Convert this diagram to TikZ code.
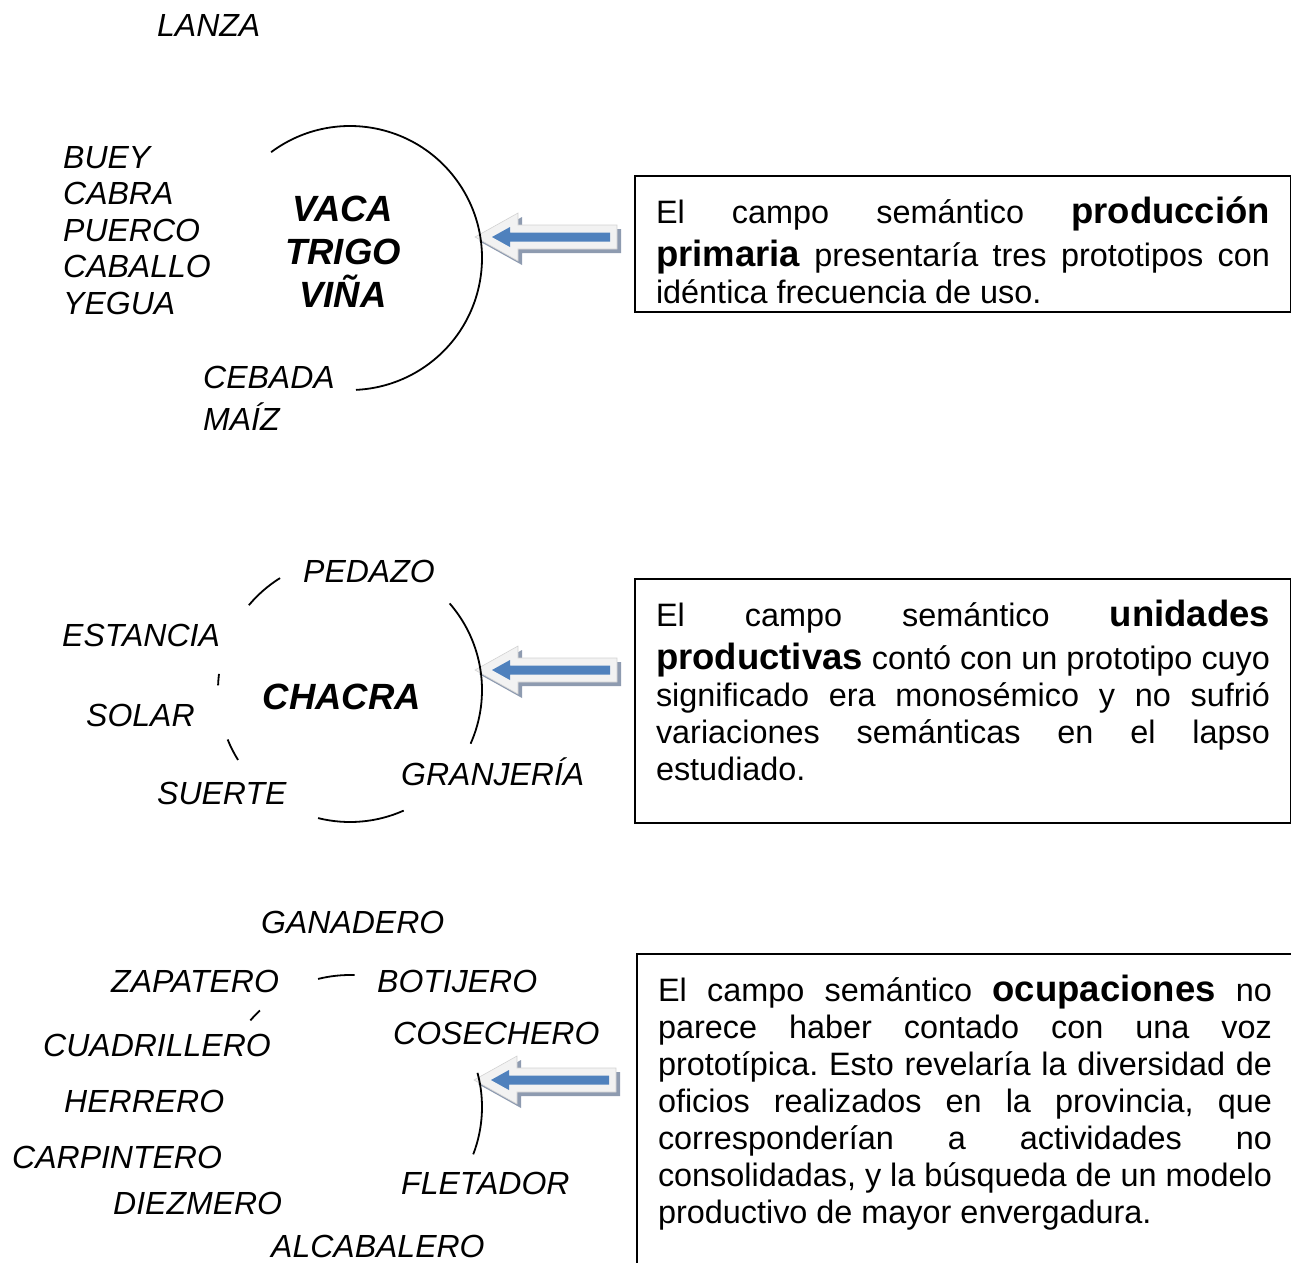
\documentclass[tikz,border=0pt]{standalone}
\usepackage{fontspec}
\setmainfont{Liberation Sans}
\usepackage{tikz}
\usetikzlibrary{calc}
\definecolor{cArrow}{HTML}{4F81BD}
\definecolor{cBevel}{HTML}{F2F2F2}
\definecolor{cEdge}{HTML}{D2D2D2}
\definecolor{cShade}{HTML}{8E9BB0}
\tikzset{
  word/.style  = {font=\fontsize{32}{36}\selectfont\itshape, inner sep=0pt, anchor=base west},
  core/.style  = {font=\fontsize{36.5}{43}\selectfont\bfseries\itshape, inner sep=0pt, anchor=base},
  ring/.style  = {draw=black, line width=1.8pt},
  note/.style  = {rectangle, draw=black, line width=2pt, anchor=north west,
                  inner xsep=21pt, inner ysep=9pt, text width=614pt, align=justify,
                  font=\fontsize{32.4}{37}\selectfont\frenchspacing},
}
\newcommand{\kw}[1]{{\fontsize{36.5}{37}\selectfont\bfseries #1}}
\newcommand{\jline}[1]{{\spaceskip=0pt\xspaceskip=0pt\makebox[614pt][s]{#1}}}
\newcommand{\fatarrow}[1]{%
  \begin{scope}[shift={(#1)}]
    \fill[cShade] (4,4) -- (47,-20) -- (47,-8) -- (146,-8) -- (146,16) -- (47,16) -- (47,28) -- cycle;
    \filldraw[fill=cBevel, draw=cEdge, line width=0.6pt]
      (0,0) -- (43,-24) -- (43,-12) -- (142,-12) -- (142,12) -- (43,12) -- (43,24) -- cycle;
    \fill[cArrow] (17,0) -- (35,-10) -- (35,-4.5) -- (135,-4.5) -- (135,4.5) -- (35,4.5) -- (35,10) -- cycle;
  \end{scope}}

\begin{document}
\begin{tikzpicture}[x=1pt, y=-1pt]
  \useasboundingbox (0,0) rectangle (1291,1262);

  % ---- produccion primaria ----
  \node[word] (lanza) at (157,36) {LANZA};
  \node[word] (buey) at (63,168) {BUEY};
  \node[word] (cabra) at (63,204.5) {CABRA};
  \node[word] (puerco) at (63,241) {PUERCO};
  \node[word] (caballo) at (63,277.5) {CABALLO};
  \node[word] (yegua) at (63,314) {YEGUA};
  \node[core] (vaca) at (343,221) {VACA};
  \node[core] (trigo) at (343,264) {TRIGO};
  \node[core] (vina) at (343,307) {VIÑA};
  \node[word] (cebada) at (203,388.5) {CEBADA};
  \node[word] (maiz) at (203,430.5) {MAÍZ};

  \node[note] (box1) at (634,175)
    {\spaceskip=0pt\rule{0pt}{38pt}\jline{El campo semántico \kw{producción}}\\[6pt]
     \jline{\kw{primaria} presentaría tres prototipos con}\\
     idéntica frecuencia de uso.};

  % ---- unidades productivas ----
  \node[word] (pedazo) at (303,582) {PEDAZO};
  \node[word] (estancia) at (62,646) {ESTANCIA};
  \node[core] (chacra) at (342,709) {CHACRA};
  \node[word] (solar) at (86,726) {SOLAR};
  \node[word] (suerte) at (157,804) {SUERTE};
  \node[word] (granjeria) at (401,785) {GRANJERÍA};

  \node[note] (box2) at (634,578)
    {\spaceskip=0pt\rule{0pt}{38pt}\jline{El campo semántico \kw{unidades}}\\[6pt]
     \jline{\kw{productivas} contó con un prototipo cuyo}\\
     \jline{significado era monosémico y no sufrió}\\
     \jline{variaciones semánticas en el lapso}\\
     estudiado.\rule[-34pt]{0pt}{0pt}};

  % ---- ocupaciones ----
  \node[word] (ganadero) at (261,933.5) {GANADERO};
  \node[word] (zapatero) at (111,992) {ZAPATERO};
  \node[word] (botijero) at (377,992) {BOTIJERO};
  \node[word] (cosechero) at (393,1044) {COSECHERO};
  \node[word] (cuadrillero) at (43,1056) {CUADRILLERO};
  \node[word] (herrero) at (64,1112) {HERRERO};
  \node[word] (carpintero) at (12,1168) {CARPINTERO};
  \node[word] (fletador) at (401,1194) {FLETADOR};
  \node[word] (diezmero) at (113,1214) {DIEZMERO};
  \node[word] (alcabalero) at (271,1257) {ALCABALERO};

  \node[note] (box3) at (636,953)
    {\spaceskip=0pt\rule{0pt}{38pt}\jline{El campo semántico \kw{ocupaciones} no}\\
     \jline{parece haber contado con una voz}\\
     \jline{prototípica. Esto revelaría la diversidad de}\\
     \jline{oficios realizados en la provincia, que}\\
     \jline{corresponderían a actividades no}\\
     \jline{consolidadas, y la búsqueda de un modelo}\\
     productivo de mayor envergadura.\rule[-60pt]{0pt}{0pt}};

  % ---- arrows towards the circles ----
  \coordinate (tip1) at (475,237);
  \coordinate (tip2) at (475,670);
  \coordinate (tip3) at (474,1080);
  \fatarrow{tip1}
  \fatarrow{tip2}
  \fatarrow{tip3}

  % ---- circle pieces ----
  \coordinate (c1) at (350,258);
  \coordinate (c2) at (350,690);
  \coordinate (c3) at (350,1107);
  \draw[ring] ($(c1)+(-126.7:132)$) arc[start angle=-126.7, end angle=87.4, radius=132];
  \foreach \a/\b in {-140/-122, -41/24, 66/104, 148/158, 182/187}
    \draw[ring] ($(c2)+(\a:132)$) arc[start angle=\a, end angle=\b, radius=132];
  \foreach \a/\b in {-104/-88, -139/-133, -15/21}
    \draw[ring] ($(c3)+(\a:132)$) arc[start angle=\a, end angle=\b, radius=132];
\end{tikzpicture}
\end{document}
